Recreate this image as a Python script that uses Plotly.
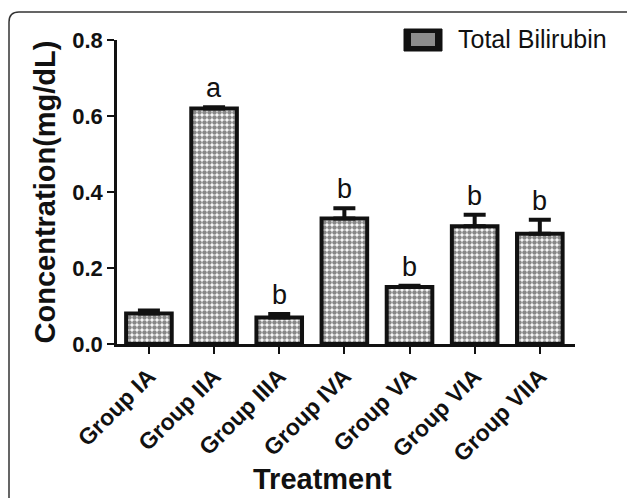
import plotly.graph_objects as go

groups = ["Group IA", "Group IIA", "Group IIIA", "Group IVA", "Group VA", "Group VIA", "Group VIIA"]
values = [0.08, 0.62, 0.07, 0.33, 0.15, 0.31, 0.29]
errors = [0.008, 0.003, 0.009, 0.027, 0.003, 0.030, 0.037]
letters = ["", "a", "b", "b", "b", "b", "b"]
y_ticks = [0.0, 0.2, 0.4, 0.6, 0.8]
y_tick_labels = ["0.0", "0.2", "0.4", "0.6", "0.8"]
legend_label = "Total Bilirubin"
x_title = "Treatment"
y_title = "Concentration(mg/dL)"

W, H = 627, 498
L, R, T, B = 117, 52, 40, 154
pw, ph = W - L - R, H - T - B

def px2paper(x, y):
    return (x - L) / pw, (H - B - y) / ph

FONT = "Liberation Sans, Arial, sans-serif"
INK = "#111"

fig = go.Figure()
fig.add_trace(go.Bar(
    x=groups, y=values, name=legend_label, width=0.7, showlegend=False,
    marker=dict(color="white", line=dict(color=INK, width=4),
                pattern=dict(shape=".", fgcolor=INK, bgcolor="white", size=5, solidity=0.65)),
    error_y=dict(type="data", array=errors, arrayminus=[0] * len(errors), symmetric=False,
                 color=INK, thickness=4, width=11),
))

for g, v, e, t in zip(groups, values, errors, letters):
    if t:
        fig.add_annotation(x=g, y=v + e, text=t, showarrow=False, yanchor="bottom", yshift=2,
                           font=dict(family=FONT, size=27, color=INK))

# outer rounded frame
x0, ytop = px2paper(9, 12)
xr, ybot = px2paper(650, 520)
rx, ry = 10 / pw, 10 / ph
fig.add_shape(type="path", xref="paper", yref="paper",
              path=f"M {x0},{ybot} L {x0},{ytop - ry} Q {x0},{ytop} {x0 + rx},{ytop} L {xr},{ytop}",
              line=dict(color="#333", width=1.5))

# legend swatch + label
sx0, sy0 = px2paper(404, 51)
sx1, sy1 = px2paper(442, 29)
fig.add_shape(type="rect", xref="paper", yref="paper", x0=sx0, y0=sy0, x1=sx1, y1=sy1,
              fillcolor=INK, line=dict(color=INK, width=1))
ix0, iy0 = px2paper(411, 46)
ix1, iy1 = px2paper(435, 33)
fig.add_shape(type="rect", xref="paper", yref="paper", x0=ix0, y0=iy0, x1=ix1, y1=iy1,
              fillcolor="#8c8c8c", line=dict(width=0))
tx, ty = px2paper(456, 39)
fig.add_annotation(xref="paper", yref="paper", x=tx, y=ty, xanchor="left", yanchor="middle",
                   text=legend_label, showarrow=False, font=dict(family=FONT, size=25, color=INK))

# x axis title
ttx, tty = px2paper(322, 479)
fig.add_annotation(xref="paper", yref="paper", x=ttx, y=tty, xanchor="center", yanchor="middle",
                   text=f"<b>{x_title}</b>", showarrow=False, font=dict(family=FONT, size=29, color=INK))

fig.update_layout(
    width=W, height=H, margin=dict(l=L, r=R, t=T, b=B, autoexpand=False),
    paper_bgcolor="white", plot_bgcolor="white",
    font=dict(family=FONT, color=INK),
    showlegend=False,
    xaxis=dict(range=[-0.49, 6.54], showline=True, linecolor=INK, linewidth=2.5,
               ticks="outside", ticklen=7, tickwidth=2, tickcolor=INK, tickangle=-45,
               tickfont=dict(size=23, family=FONT, weight="bold"),
               showgrid=False, zeroline=False),
    yaxis=dict(range=[0, 0.8], tickvals=y_ticks, ticktext=y_tick_labels, showline=True,
               linecolor=INK, linewidth=2.5, ticks="outside", ticklen=7, tickwidth=2,
               tickcolor=INK, tickfont=dict(size=22, family=FONT, weight="bold"),
               title=dict(text=f"<b>{y_title}</b>", font=dict(size=29), standoff=9),
               showgrid=False, zeroline=False),
)

fig.write_html("out.html", config={"displayModeBar": False},
               post_script="document.body.style.margin='0px';")
